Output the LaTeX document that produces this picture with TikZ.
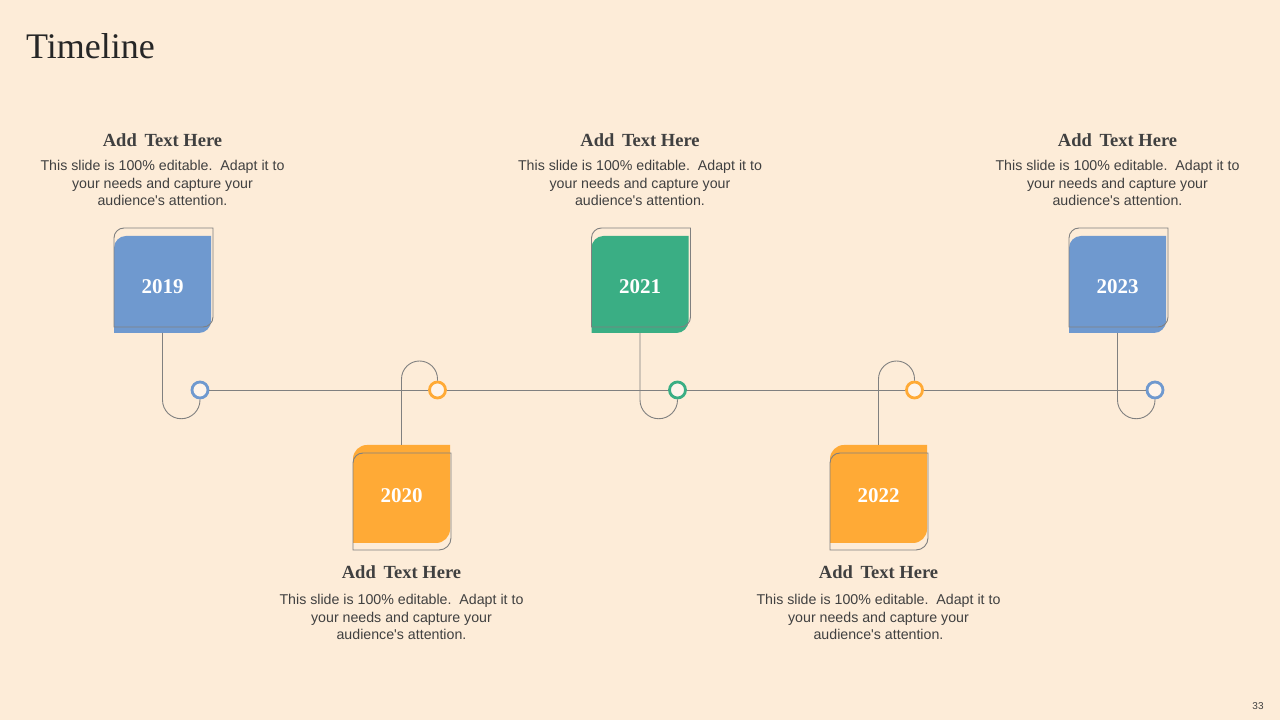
\documentclass[tikz,border=0pt]{standalone}
\usepackage{fontspec}
\setmainfont{Liberation Serif}
\newfontfamily\bodyfont{Liberation Sans}
\definecolor{bg}{HTML}{FDECD8}
\definecolor{tblue}{HTML}{6F99CF}
\definecolor{torange}{HTML}{FFAA36}
\definecolor{tgreen}{HTML}{3AAE84}
\definecolor{tline}{HTML}{808080}
\definecolor{ttext}{HTML}{404040}
\definecolor{dotfill}{HTML}{FEF4EA}
\tikzset{
  conn/.style={draw=tline, line width=0.9pt},
  outl/.style={draw=tline, line width=0.9pt},
  dot/.style={circle, draw=#1, line width=2.8pt, fill=dotfill, minimum size=16pt, inner sep=0pt},
  yeartext/.style={text=white, font=\bfseries\fontsize{21}{24}\selectfont},
  head/.style={text=ttext, font=\bfseries\fontsize{18.5}{22}\selectfont},
  body/.style={text=ttext, align=center, font=\bodyfont\fontsize{14.2}{17.5}\selectfont, inner sep=0pt},
}
% top item: #1 name, #2 center x, #3 colour, #4 year
\newcommand\TopItem[4]{%
  \fill[#3] ({#2-48.5},387) -- ({#2-48.5},472) arc[start angle=180,end angle=90,radius=12]
     -- ({#2+48.5},484) -- ({#2+48.5},399) arc[start angle=0,end angle=-90,radius=12] -- cycle;
  \draw[outl] ({#2-48.5},393) -- ({#2-48.5},482) arc[start angle=180,end angle=90,radius=10]
     -- ({#2+50.5},492) -- ({#2+50.5},403) arc[start angle=0,end angle=-90,radius=10] -- cycle;
  \node[yeartext] (#1y) at (#2,433) {#4};
  \coordinate (#1b) at (#2,387);
  \node[dot=#3] (#1c) at ({#2+37.5},330) {};
  \draw[conn] (#1b) -- ++(0,-67) arc[start angle=180,end angle=360,radius=18.75] -- (#1c.south);
  \node[head] (#1h) at (#2,580) {Add\, Text Here};
  \node[body] (#1t) at (#2,537) {This slide is 100\% editable.\ \ Adapt it to\\your needs and capture your\\audience\textquotesingle s attention.};
}
% bottom item
\newcommand\BotItem[4]{%
  \fill[#3] ({#2-48.5},177) -- ({#2-48.5},261) arc[start angle=180,end angle=90,radius=14]
     -- ({#2+48.5},275) -- ({#2+48.5},191) arc[start angle=0,end angle=-90,radius=14] -- cycle;
  \draw[outl] ({#2-48.5},170) -- ({#2-48.5},257) arc[start angle=180,end angle=90,radius=10]
     -- ({#2+49.5},267) -- ({#2+49.5},182) arc[start angle=0,end angle=-90,radius=12] -- cycle;
  \node[yeartext] (#1y) at (#2,224) {#4};
  \coordinate (#1b) at (#2,275);
  \node[dot=#3] (#1c) at ({#2+36},330) {};
  \draw[conn] (#1b) -- ++(0,66) arc[start angle=180,end angle=0,radius=18] -- (#1c.north);
  \node[head] (#1h) at (#2,148) {Add\, Text Here};
  \node[body] (#1t) at (#2,103) {This slide is 100\% editable.\ \ Adapt it to\\your needs and capture your\\audience\textquotesingle s attention.};
}
\begin{document}
\begin{tikzpicture}[x=1pt,y=1pt]
\fill[bg] (0,0) rectangle (1280,720);
\useasboundingbox (0,0) rectangle (1280,720);
\node[anchor=base west, inner sep=0pt, text=black!85, font=\fontsize{36}{40}\selectfont] (title) at (26,661) {Timeline};
\TopItem{a}{162.5}{tblue}{2019}
\BotItem{b}{401.5}{torange}{2020}
\TopItem{c}{640}{tgreen}{2021}
\BotItem{d}{878.5}{torange}{2022}
\TopItem{e}{1117.5}{tblue}{2023}
\draw[conn] (ac) -- (bc);
\draw[conn] (bc) -- (cc);
\draw[conn] (cc) -- (dc);
\draw[conn] (dc) -- (ec);
\node[text=ttext, font=\bodyfont\fontsize{10}{11}\selectfont] (page) at (1258,14) {33};
\end{tikzpicture}
\end{document}
